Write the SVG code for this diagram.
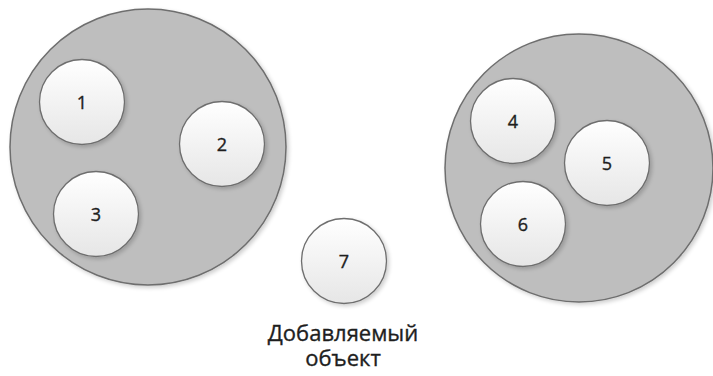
<svg xmlns="http://www.w3.org/2000/svg" width="713" height="376" viewBox="0 0 713 376">
  <defs>
    <linearGradient id="ballFill" x1="0" y1="0" x2="0" y2="1">
      <stop offset="0" stop-color="#ffffff"/>
      <stop offset="1" stop-color="#e6e6e6"/>
    </linearGradient>
    <filter id="shadow" x="-20%" y="-20%" width="140%" height="140%">
      <feGaussianBlur in="SourceAlpha" stdDeviation="2"/>
      <feOffset dx="1.5" dy="2" result="b"/>
      <feComponentTransfer><feFuncA type="linear" slope="0.2"/></feComponentTransfer>
      <feMerge><feMergeNode/><feMergeNode in="SourceGraphic"/></feMerge>
    </filter>
    <style>
      .cluster { fill: #bebebe; stroke: #6e6e6e; stroke-width: 1.5; filter: url(#shadow); }
      .item { fill: url(#ballFill); stroke: #6e6e6e; stroke-width: 1.3; filter: url(#shadow); }
      .num { font-family: "Open Sans", "Noto Sans", sans-serif; font-size: 18px; fill: #1e1e1e; stroke: #1e1e1e; stroke-width: 0.35; text-anchor: middle; }
      .caption { font-family: "Open Sans", "Noto Sans", sans-serif; font-size: 22px; fill: #1e1e1e; stroke: #1e1e1e; stroke-width: 0.35; text-anchor: middle; }
    </style>
  </defs>

  <rect width="713" height="376" fill="#ffffff"/>

  <!-- left cluster -->
  <g id="cluster-left">
    <circle class="cluster" cx="148" cy="147" r="138"/>
  </g>
  <!-- right cluster -->
  <g id="cluster-right">
    <circle class="cluster" cx="579" cy="168" r="134"/>
  </g>

  <g id="connectors"></g>

  <g id="node-1">
    <circle class="item" cx="82" cy="102" r="42.5"/>
    <text class="num" x="82" y="109">1</text>
  </g>
  <g id="node-2">
    <circle class="item" cx="222" cy="144" r="42.5"/>
    <text class="num" x="222" y="151">2</text>
  </g>
  <g id="node-3">
    <circle class="item" cx="96" cy="214" r="42.5"/>
    <text class="num" x="96" y="221">3</text>
  </g>
  <g id="node-4">
    <circle class="item" cx="513" cy="121" r="42.5"/>
    <text class="num" x="513" y="128">4</text>
  </g>
  <g id="node-5">
    <circle class="item" cx="607" cy="163" r="42.5"/>
    <text class="num" x="607" y="170">5</text>
  </g>
  <g id="node-6">
    <circle class="item" cx="523" cy="224" r="42.5"/>
    <text class="num" x="523" y="231">6</text>
  </g>
  <g id="node-7">
    <circle class="item" cx="344" cy="261" r="42.5"/>
    <text class="num" x="344" y="268">7</text>
    <text class="caption" x="343" y="341">Добавляемый</text>
    <text class="caption" x="343" y="366">объект</text>
  </g>
</svg>
